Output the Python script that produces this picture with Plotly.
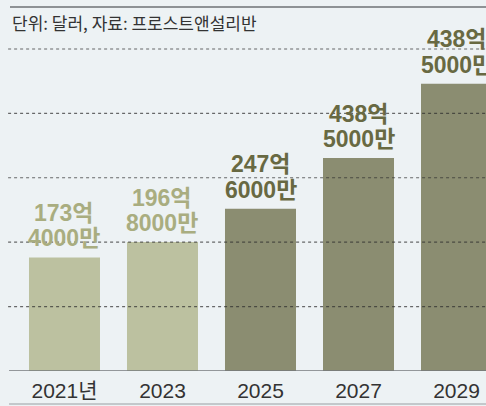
import plotly.graph_objects as go

# ---- data ----
YEARS = ["2021", "2023", "2025", "2027", "2029"]
TICK_TEXT = ["2021년", "2023", "2025", "2027", "2029"]
VALUES = [173.4, 196.8, 247.6, 325.0, 438.5]          # 억 달러 (bar heights)
LABEL_TOP = ["173억", "196억", "247억", "438억", "438억"]
LABEL_BOTTOM = ["4000만", "8000만", "6000만", "5000만", "5000만"]
GRID_VALUES = [98.3, 196.6, 295.0, 393.3, 491.6]
TITLE = "단위: 달러, 자료: 프로스트앤설리반"

# ---- style ----
LIGHT_BAR = "#bcc1a0"
DARK_BAR = "#8b8d71"
LIGHT_TXT = "#a9ad80"
DARK_TXT = "#686942"
BG = "#edf2f4"
bar_colors = [LIGHT_BAR, LIGHT_BAR, DARK_BAR, DARK_BAR, DARK_BAR]
txt_colors = [LIGHT_TXT, LIGHT_TXT, DARK_TXT, DARK_TXT, DARK_TXT]
NUM_FONT = "Liberation Sans, Noto Sans CJK KR"

idx = list(range(len(YEARS)))

fig = go.Figure()
fig.add_trace(go.Bar(
    x=idx, y=VALUES, marker=dict(color=bar_colors, line=dict(width=0)),
    width=0.7245, hoverinfo="skip",
))

annotations = []
for i, v, t1, t2, c in zip(idx, VALUES, LABEL_TOP, LABEL_BOTTOM, txt_colors):
    annotations.append(dict(x=i, y=v, xref="x", yref="y", text=f"<b>{t2}</b>", showarrow=False,
                            yanchor="middle", yshift=19,
                            font=dict(family=NUM_FONT, size=23, color=c)))
    annotations.append(dict(x=i, y=v, xref="x", yref="y", text=f"<b>{t1}</b>", showarrow=False,
                            yanchor="middle", yshift=44.5,
                            font=dict(family=NUM_FONT, size=23, color=c)))

annotations.append(dict(xref="paper", yref="paper", x=0.0, y=1, yshift=-15,
                        xanchor="left", yanchor="middle", text=TITLE, showarrow=False,
                        font=dict(family="Noto Sans CJK KR", size=17, color="#333333")))

shapes = []
for g in GRID_VALUES:
    shapes.append(dict(type="line", xref="paper", yref="y", x0=-0.004, x1=1, y0=g, y1=g,
                       layer="above", line=dict(color="rgba(45,45,45,0.7)", width=1.2, dash="dot")))
# top rule
shapes.append(dict(type="line", xref="paper", yref="paper", x0=0, x1=1, y0=1, y1=1,
                   line=dict(color="#6e7276", width=1.6)))
# baseline
shapes.append(dict(type="line", xref="paper", yref="y", x0=-0.002, x1=1, y0=0, y1=0,
                   layer="above", line=dict(color="#74787c", width=1.6)))
# bottom rule
shapes.append(dict(type="line", xref="paper", yref="paper", x0=-0.002, x1=1, y0=-0.0907, y1=-0.0907,
                   line=dict(color="#9a9ea2", width=1.2)))

fig.update_layout(
    width=486, height=406,
    margin=dict(l=10, r=0, t=7, b=35, autoexpand=False),
    paper_bgcolor=BG, plot_bgcolor=BG,
    showlegend=False,
    annotations=annotations,
    shapes=shapes,
)
fig.update_xaxes(range=[-0.556, 4.301], tickmode="array", tickvals=idx, ticktext=TICK_TEXT,
                 showgrid=False, zeroline=False, showline=False, ticks="", automargin=False,
                 ticklabelstandoff=5,
                 tickfont=dict(family="Liberation Sans, Noto Sans CJK KR", size=21, color="#333333"),
                 fixedrange=True)
fig.update_yaxes(range=[0, 555.7], showgrid=False, zeroline=False, showticklabels=False,
                 showline=False, fixedrange=True, automargin=False)

fig.write_html("out.html", config={"displayModeBar": False},
               post_script="document.body.style.margin='0';document.body.style.overflow='hidden';")
